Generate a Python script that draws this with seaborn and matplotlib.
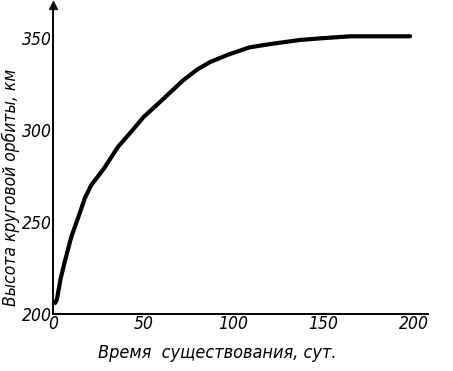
import matplotlib
matplotlib.use("Agg")
import matplotlib.pyplot as plt
import seaborn as sns
import pandas as pd

sns.set_theme(style="white")
plt.rcParams['font.family'] = ['DejaVu Sans']

# время существования (сут.) и высота круговой орбиты (км)
days = [1, 2, 4, 6.5, 10, 14, 17.5, 21, 28, 36, 44, 50, 60, 72, 80, 87, 97,
        109, 122, 137, 150, 165, 180, 198]
height_km = [206, 208, 219, 229, 242, 253, 263, 270, 279, 291, 300, 307, 316,
             327, 333, 337, 341, 345, 347, 349, 350, 351, 351, 351]
x_ticks = [0, 50, 100, 150, 200]
y_ticks = [200, 250, 300, 350]

orbit = pd.DataFrame({'days': days, 'height': height_km})

fig = plt.figure(figsize=(4.53, 3.71), dpi=100)
ax = fig.add_axes([0.1177, 0.1536, 0.945 - 0.1177, 0.9865 - 0.1536])

sns.lineplot(x='days', y='height', data=orbit, color='black', linewidth=3.0, ax=ax)

ax.set_xlim(0, 208)
ax.set_ylim(200, 368)
ax.set_xticks(x_ticks)
ax.set_yticks(y_ticks)
ax.set_xticklabels([str(t) for t in x_ticks], fontstyle='italic', fontsize=12.5,
                   fontstretch='condensed')
ax.set_yticklabels([str(t) for t in y_ticks], fontstyle='italic', fontsize=12.5,
                   fontstretch='condensed')
ax.tick_params(direction='in', length=4, width=1, color='black', pad=1, labelcolor='black')

for side in ['top', 'right']:
    ax.spines[side].set_visible(False)
for side in ['left', 'bottom']:
    ax.spines[side].set_color('black')
    ax.spines[side].set_linewidth(1.4)

# стрелки на осях
ax.plot(1, 0, '>k', markersize=6, transform=ax.get_yaxis_transform(), clip_on=False)
ax.plot(0, 1, '^k', markersize=6, transform=ax.get_xaxis_transform(), clip_on=False)

ax.set_xlabel('Время  существования, сут.', fontstyle='italic', fontsize=13,
              fontstretch='condensed', color='black')
ax.set_ylabel('Высота круговой орбиты, км', fontstyle='italic', fontsize=12.5,
              fontstretch='condensed', color='black')
ax.xaxis.set_label_coords(0.437, -0.097)
ax.yaxis.set_label_coords(-0.09, 0.41)

fig.savefig('out.png', dpi=100, facecolor='white')
